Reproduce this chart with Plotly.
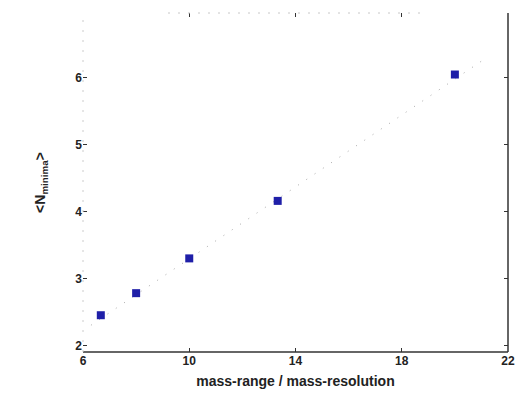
import plotly.graph_objects as go

# Measured mean number of minima vs. ratio of mass range to mass resolution
ratio = [6.67, 8.0, 10.0, 13.33, 20.0]
n_minima = [2.45, 2.78, 3.30, 4.16, 6.05]

# Linear trend line endpoints
trend_x = [6.3, 21.0]
trend_y = [2.30, 6.25]

x_ticks = [6, 10, 14, 18, 22]
y_ticks = [2, 3, 4, 5, 6]

FONT = "Liberation Sans, Arial, sans-serif"

fig = go.Figure()
fig.add_trace(go.Scatter(
    x=trend_x, y=trend_y, mode="lines",
    line=dict(color="#a8a8a8", width=1, dash="1px,9px"),
    hoverinfo="skip", showlegend=False,
))
fig.add_trace(go.Scatter(
    x=ratio, y=n_minima, mode="markers",
    marker=dict(symbol="square", size=8, color="#1f1fa8", line=dict(width=0)),
    showlegend=False,
))

axis_font = dict(family=FONT, size=12, color="#222222", weight="bold")
fig.update_xaxes(
    range=[6, 22], tickvals=x_ticks, ticks="inside", ticklen=4, tickcolor="#333",
    showgrid=False, zeroline=False, showline=False, mirror="ticks",
    tickfont=axis_font,
    title=dict(text="mass-range / mass-resolution",
               font=dict(family=FONT, size=14, color="#222", weight="bold"),
               standoff=9),
)
fig.update_yaxes(
    range=[1.9, 6.97], tickvals=y_ticks, ticks="inside", ticklen=4, tickcolor="#333",
    showgrid=False, zeroline=False, showline=False, mirror="ticks",
    tickfont=axis_font,
    title=dict(text="&lt;N<sub>minima</sub>&gt;",
               font=dict(family=FONT, size=14, color="#222", weight="bold"),
               standoff=26),
)

# Frame: solid bottom/right edges, faint dotted top/left edges
frame = [
    dict(x0=0, x1=1, y0=0, y1=0, color="#333333", dash="solid", width=1.5),
    dict(x0=1, x1=1, y0=0, y1=1, color="#333333", dash="solid", width=1.5),
    dict(x0=0.2, x1=0.8, y0=1, y1=1, color="#c8c8c8", dash="2px,8px", width=1),
    dict(x0=0, x1=0, y0=0, y1=1, color="#cccccc", dash="2px,8px", width=1),
]
for e in frame:
    fig.add_shape(type="line", xref="paper", yref="paper",
                  x0=e["x0"], x1=e["x1"], y0=e["y0"], y1=e["y1"],
                  line=dict(color=e["color"], width=e["width"], dash=e["dash"]))

fig.update_layout(
    width=522, height=398,
    margin=dict(l=83, r=7, t=13, b=46),
    paper_bgcolor="white", plot_bgcolor="white",
)

fig.write_html("out.html")
